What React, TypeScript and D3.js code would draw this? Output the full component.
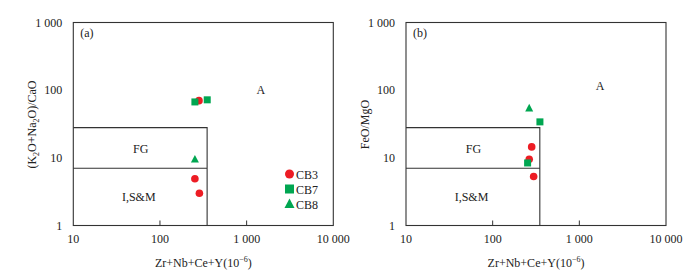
import React from "react";
import * as d3 from "d3";

// sample values
const cb3A = [[282, 70], [253, 4.9], [285, 3.0]];
const cb7A = [[253, 67], [351, 72]];
const cb8A = [[253, 9.5]];

const cb3B = [[282, 14.5], [264, 9.5], [297, 5.3]];
const cb7B = [[351, 34], [253, 8.4]];
const cb8B = [[264, 54]];

const xTicks = [10, 100, 1000, 10000];
const yTicks = [1, 10, 100, 1000];
const tickText = ["10", "100", "1 000", "10 000"];
const yTickText = ["1", "10", "100", "1 000"];

// field limits (Whalen et al.)
const fgX = 350;
const fgTop = 28;
const fgBottom = 7;

const RED = "#ed1c24";
const GREEN = "#00a651";
const FONT = "'Liberation Serif', 'Times New Roman', serif";

const Circle = ({ x, y, r = 3.8 }) => <circle cx={x} cy={y} r={r} fill={RED} />;
const Square = ({ x, y, s = 7 }) => <rect x={x - s / 2} y={y - s / 2} width={s} height={s} fill={GREEN} />;
const Tri = ({ x, y, s = 8 }) => (
  <path d={`M${x},${y - s * 0.55}L${x + s / 2},${y + s * 0.4}L${x - s / 2},${y + s * 0.4}Z`} fill={GREEN} />
);

const Panel = ({ left, tag, yTitle, cb3, cb7, cb8, legend, aPos }) => {
  const x = d3.scaleLog().domain([10, 10000]).range([left, left + 260]);
  const y = d3.scaleLog().domain([1, 1000]).range([225.5, 22.5]);

  return (
    <g fontFamily={FONT} fontSize={12} fill="#222">
      {/* FG / I,S&M fields */}
      <path
        d={`M${x(10)},${y(fgTop)}H${x(fgX)}V${y(1)}M${x(10)},${y(fgBottom)}H${x(fgX)}`}
        fill="none" stroke="#333" strokeWidth={1.1}
      />
      <rect x={x(10)} y={y(1000)} width={x(10000) - x(10)} height={y(1) - y(1000)}
        fill="none" stroke="#333" strokeWidth={1.1} />
      {xTicks.slice(1, 3).map((t) => (
        <line key={t} x1={x(t)} x2={x(t)} y1={y(1)} y2={y(1) - 5} stroke="#333" />
      ))}
      {xTicks.map((t, i) => (
        <text key={t} x={x(t)} y={y(1) + 17} textAnchor="middle">{tickText[i]}</text>
      ))}
      {yTicks.map((t, i) => (
        <text key={t} x={x(10) - 11} y={y(t) + 4} textAnchor="end">{yTickText[i]}</text>
      ))}
      <text x={x(10) + 130} y={267} textAnchor="middle">
        Zr+Nb+Ce+Y(10<tspan fontSize={8} dy={-5}>−6</tspan><tspan dy={5}>)</tspan>
      </text>
      <text transform={`translate(${left - 37},${y(1) - 101}) rotate(-90)`} textAnchor="middle">
        {yTitle}
      </text>
      <text x={x(10) + 7} y={y(1000) + 14}>{tag}</text>
      <text x={x(aPos[0])} y={y(aPos[1]) + 4} textAnchor="middle">A</text>
      <text x={x(60)} y={y(13) + 3} textAnchor="middle">FG</text>
      <text x={x(57)} y={y(2.6) + 4} textAnchor="middle">I,S&amp;M</text>

      {cb3.map((d, i) => <Circle key={`a${i}`} x={x(d[0])} y={y(d[1])} />)}
      {cb7.map((d, i) => <Square key={`b${i}`} x={x(d[0])} y={y(d[1])} />)}
      {cb8.map((d, i) => <Tri key={`c${i}`} x={x(d[0])} y={y(d[1])} />)}

      {legend && (
        <g>
          <Circle x={289.5} y={174} r={4.5} />
          <text x={296} y={178.5}>CB3</text>
          <Square x={289.5} y={189} s={9} />
          <text x={296} y={193.5}>CB7</text>
          <Tri x={289.5} y={204} s={10} />
          <text x={296} y={208.5}>CB8</text>
        </g>
      )}
    </g>
  );
};

export default function App() {
  return (
    <svg width={698} height={273} style={{ position: "absolute", left: 0, top: 0, background: "#fff" }}>
      <Panel
        left={73.3}
        tag="(a)"
        aPos={[1460, 100]}
        yTitle={<>(K<tspan fontSize={8} dy={3}>2</tspan><tspan dy={-3}>O+Na</tspan><tspan fontSize={8} dy={3}>2</tspan><tspan dy={-3}>O)/CaO</tspan></>}
        cb3={cb3A} cb7={cb7A} cb8={cb8A} legend
      />
      <Panel left={406} tag="(b)" aPos={[1730, 114]} yTitle="FeO/MgO" cb3={cb3B} cb7={cb7B} cb8={cb8B} legend={false} />
    </svg>
  );
}
